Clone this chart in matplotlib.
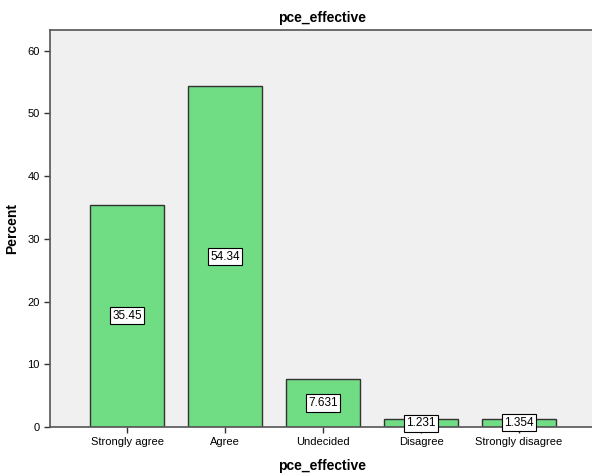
import matplotlib
matplotlib.use('Agg')
import matplotlib.pyplot as plt

categories = ['Strongly agree', 'Agree', 'Undecided', 'Disagree', 'Strongly disagree']
percent = [35.45, 54.34, 7.631, 1.231, 1.354]
value_labels = ['35.45', '54.34', '7.631', '1.231', '1.354']

plt.rcParams['font.family'] = ['Liberation Sans', 'DejaVu Sans']

fig = plt.figure(figsize=(5.92, 4.76), dpi=100)
ax = fig.add_axes([50/592, 49/476, 545/592, 397/476])
ax.set_facecolor('#F0F0F0')

x = list(range(len(categories)))
ax.bar(x, percent, width=0.755, color='#70DC84', edgecolor='#333333', linewidth=1.0, zorder=2)

# value labels boxed at half height of each bar
for xi, v, lab in zip(x, percent, value_labels):
    ax.text(xi, v / 2, lab, ha='center', va='center', fontsize=8.5, zorder=3,
            bbox=dict(boxstyle='square,pad=0.22', facecolor='white', edgecolor='black', linewidth=0.8))

ax.set_xlim(-0.786, 4.775)
ax.set_ylim(0, 63.3)
ax.set_yticks([0, 10, 20, 30, 40, 50, 60])
ax.set_xticks(x)
ax.set_xticklabels(categories)
ax.tick_params(axis='both', direction='out', length=4, width=1, labelsize=8, colors='#333333', labelcolor='black')

for s in ['left', 'bottom', 'top']:
    ax.spines[s].set_color('#555555')
    ax.spines[s].set_linewidth(1.2)
ax.spines['right'].set_visible(False)

ax.set_ylabel('Percent', fontsize=10, fontweight='bold', labelpad=6)
ax.set_xlabel('pce_effective', fontsize=10, fontweight='bold', labelpad=8)
ax.set_title('pce_effective', fontsize=10, fontweight='bold', pad=6)

fig.savefig('out.png', dpi=100)
